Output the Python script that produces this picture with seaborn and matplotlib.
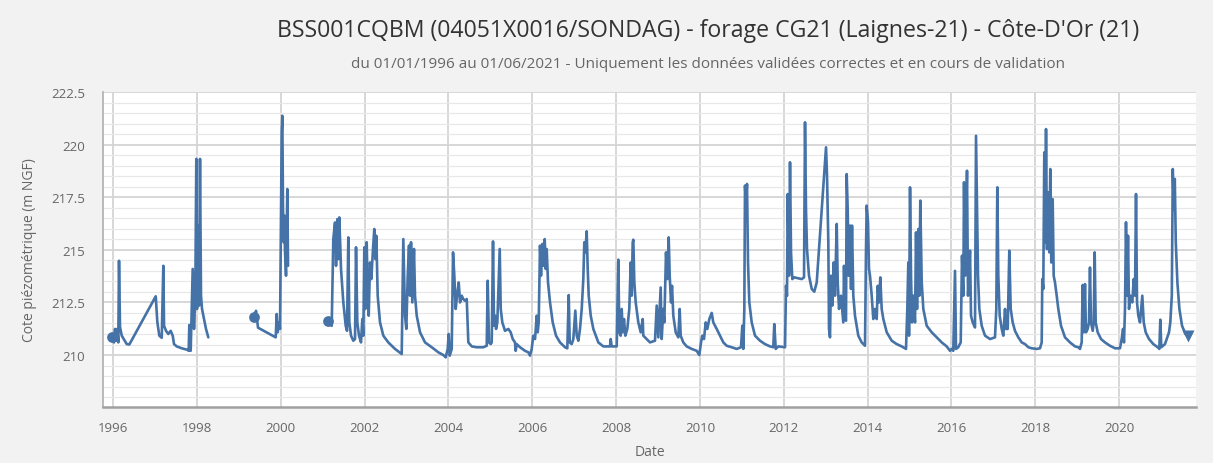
import numpy as np
import pandas as pd
import matplotlib
matplotlib.use("Agg")
import matplotlib.pyplot as plt
from matplotlib.ticker import MultipleLocator, FuncFormatter
import seaborn as sns

# ---------------- data ----------------
years_1996_1998 = [1995.969, 1996.024, 1996.048, 1996.072, 1996.103, 1996.126, 1996.143, 1996.167,
                   1996.208, 1996.327, 1996.389, 1997.019, 1997.057, 1997.104, 1997.162, 1997.200,
                   1997.217, 1997.264, 1997.319, 1997.376, 1997.424, 1997.455, 1997.520, 1997.639,
                   1997.772, 1997.805, 1997.820, 1997.853, 1997.901, 1997.932, 1997.963, 1997.987,
                   1998.004, 1998.028, 1998.052, 1998.075, 1998.099, 1998.123, 1998.171, 1998.218,
                   1998.273]
level_1996_1998 = [210.84, 210.60, 211.24, 210.68, 211.24, 210.60, 214.48, 211.33,
                   210.92, 210.52, 210.50, 212.79, 211.57, 210.92, 210.82, 214.24,
                   211.39, 211.15, 211.00, 211.15, 210.92, 210.52, 210.41, 210.32,
                   210.25, 210.20, 211.43, 210.20, 214.09, 211.24, 212.82, 219.32,
                   212.19, 216.15, 212.35, 219.32, 212.82, 212.19, 211.71, 211.24,
                   210.84]

years_1999_2000 = [1999.371, 1999.411, 1999.459, 1999.881, 1999.905, 1999.929, 1999.960, 1999.984,
                   2000.024, 2000.039, 2000.055, 2000.072, 2000.086, 2000.103, 2000.127, 2000.158,
                   2000.175]
level_1999_2000 = [211.79, 212.10, 211.30, 210.84, 211.95, 211.08, 211.55, 211.24,
                   220.58, 221.37, 216.94, 215.36, 216.62, 214.88, 213.77, 217.89,
                   214.24]

readings_2001_2021 = [
    (2001.136, 211.63), (2001.217, 211.39), (2001.255, 215.51), (2001.296, 216.30), (2001.320, 214.24),
    (2001.351, 216.46), (2001.375, 214.56), (2001.398, 216.54), (2001.439, 214.09), (2001.494, 212.50),
    (2001.551, 211.39), (2001.582, 211.15), (2001.613, 215.59), (2001.637, 211.55), (2001.678, 210.92),
    (2001.732, 210.68), (2001.773, 210.76), (2001.797, 215.12), (2001.828, 211.55), (2001.868, 210.92),
    (2001.916, 210.60), (2001.947, 211.71), (2001.971, 210.92), (2001.995, 215.12), (2002.019, 212.19),
    (2002.052, 215.36), (2002.076, 212.82), (2002.100, 211.87), (2002.131, 214.40), (2002.162, 213.61),
    (2002.202, 215.04), (2002.233, 215.99), (2002.257, 214.56), (2002.281, 215.67), (2002.314, 212.82),
    (2002.369, 211.55), (2002.448, 210.92), (2002.567, 210.60), (2002.727, 210.29), (2002.887, 210.05),
    (2002.925, 215.51), (2002.966, 211.87), (2002.997, 211.24), (2003.030, 213.77), (2003.061, 215.20),
    (2003.085, 212.82), (2003.109, 215.36), (2003.140, 212.50), (2003.180, 215.04), (2003.204, 212.82),
    (2003.245, 211.87), (2003.324, 211.08), (2003.443, 210.60), (2003.603, 210.37), (2003.760, 210.13),
    (2003.879, 210.00), (2003.937, 209.89), (2003.984, 210.29), (2004.008, 211.00), (2004.032, 209.97),
    (2004.080, 210.29), (2004.111, 214.88), (2004.142, 213.77), (2004.175, 212.19), (2004.206, 212.82),
    (2004.247, 213.45), (2004.278, 212.50), (2004.318, 212.82), (2004.356, 212.66), (2004.397, 212.58),
    (2004.438, 212.66), (2004.476, 210.60), (2004.557, 210.41), (2004.676, 210.37), (2004.833, 210.37),
    (2004.915, 210.44), (2004.938, 213.53), (2004.969, 210.60), (2005.010, 210.52), (2005.034, 210.60),
    (2005.065, 215.40), (2005.089, 211.39), (2005.113, 211.87), (2005.137, 211.24), (2005.168, 211.55),
    (2005.225, 215.04), (2005.249, 212.19), (2005.287, 211.55), (2005.351, 211.15), (2005.430, 211.24),
    (2005.487, 211.08), (2005.535, 210.76), (2005.590, 210.60), (2005.606, 210.20), (2005.630, 210.52),
    (2005.709, 210.37), (2005.828, 210.20), (2005.907, 210.13), (2005.948, 209.97), (2005.988, 210.29),
    (2006.026, 210.92), (2006.067, 210.76), (2006.107, 211.87), (2006.131, 211.08), (2006.155, 211.55),
    (2006.186, 215.20), (2006.210, 213.77), (2006.241, 215.28), (2006.265, 214.24), (2006.298, 215.51),
    (2006.322, 214.09), (2006.346, 215.04), (2006.377, 213.45), (2006.425, 212.50), (2006.489, 211.55),
    (2006.568, 210.92), (2006.663, 210.60), (2006.783, 210.37), (2006.837, 210.32), (2006.871, 212.85),
    (2006.895, 210.60), (2006.942, 210.52), (2006.981, 210.76), (2007.028, 212.11), (2007.062, 210.92),
    (2007.100, 210.68), (2007.140, 211.24), (2007.181, 212.19), (2007.219, 213.61), (2007.243, 215.36),
    (2007.267, 214.88), (2007.300, 215.88), (2007.324, 214.09), (2007.348, 212.82), (2007.396, 211.87),
    (2007.458, 211.24), (2007.577, 210.60), (2007.696, 210.41), (2007.856, 210.41), (2007.873, 210.76),
    (2007.896, 210.41), (2008.016, 210.41), (2008.054, 214.53), (2008.078, 211.08), (2008.111, 210.92),
    (2008.135, 212.19), (2008.159, 211.08), (2008.190, 211.71), (2008.221, 210.92), (2008.269, 211.24),
    (2008.316, 212.19), (2008.350, 214.40), (2008.374, 212.82), (2008.397, 215.36), (2008.412, 215.48),
    (2008.436, 213.45), (2008.469, 212.50), (2008.531, 211.55), (2008.588, 211.08), (2008.636, 211.71),
    (2008.650, 210.92), (2008.731, 210.76), (2008.810, 210.60), (2008.929, 210.68), (2008.970, 212.35),
    (2009.008, 210.84), (2009.065, 213.21), (2009.089, 210.76), (2009.127, 212.19), (2009.151, 211.55),
    (2009.192, 214.88), (2009.223, 213.61), (2009.256, 215.59), (2009.280, 213.77), (2009.311, 212.50),
    (2009.335, 213.29), (2009.366, 211.87), (2009.423, 211.08), (2009.485, 210.84), (2009.518, 212.19),
    (2009.542, 210.92), (2009.604, 210.60), (2009.685, 210.41), (2009.805, 210.29), (2009.924, 210.20),
    (2009.986, 210.00), (2010.027, 210.60), (2010.058, 210.92), (2010.098, 210.76), (2010.139, 211.55),
    (2010.177, 211.24), (2010.225, 211.71), (2010.282, 212.00), (2010.320, 211.55), (2010.401, 211.24),
    (2010.480, 210.92), (2010.559, 210.60), (2010.640, 210.44), (2010.759, 210.37), (2010.878, 210.29),
    (2010.981, 210.37), (2011.012, 211.39), (2011.036, 210.29), (2011.060, 212.19), (2011.076, 218.05),
    (2011.100, 217.10), (2011.124, 218.13), (2011.148, 214.40), (2011.179, 212.50), (2011.236, 211.55),
    (2011.315, 210.92), (2011.434, 210.68), (2011.553, 210.52), (2011.673, 210.41), (2011.751, 210.37),
    (2011.775, 211.47), (2011.809, 210.29), (2011.871, 210.41), (2012.031, 210.37), (2012.055, 213.29),
    (2012.078, 212.82), (2012.095, 217.65), (2012.126, 213.77), (2012.150, 219.16), (2012.174, 214.88),
    (2012.205, 213.61), (2012.252, 213.69), (2012.429, 213.61), (2012.484, 213.69), (2012.508, 221.06),
    (2012.531, 216.94), (2012.555, 215.04), (2012.603, 213.77), (2012.668, 213.14), (2012.729, 213.01),
    (2012.787, 213.45), (2013.009, 219.87), (2013.033, 218.52), (2013.064, 215.36), (2013.080, 211.24),
    (2013.104, 210.84), (2013.128, 213.77), (2013.159, 212.35), (2013.192, 214.40), (2013.223, 212.82),
    (2013.264, 216.23), (2013.288, 213.45), (2013.319, 212.19), (2013.366, 212.82), (2013.421, 211.55),
    (2013.438, 214.24), (2013.462, 211.71), (2013.486, 211.63), (2013.502, 218.60), (2013.526, 216.94),
    (2013.550, 213.77), (2013.581, 216.15), (2013.605, 213.14), (2013.629, 216.15), (2013.660, 212.82),
    (2013.700, 211.87), (2013.779, 210.92), (2013.860, 210.60), (2013.939, 210.44), (2013.963, 215.04),
    (2013.979, 217.10), (2014.011, 216.31), (2014.034, 214.09), (2014.058, 213.77), (2014.099, 212.82),
    (2014.137, 211.71), (2014.177, 212.19), (2014.218, 211.71), (2014.242, 213.29), (2014.273, 212.50),
    (2014.304, 213.69), (2014.337, 212.19), (2014.376, 211.71), (2014.457, 211.08), (2014.576, 210.68),
    (2014.695, 210.52), (2014.814, 210.41), (2014.917, 210.29), (2014.948, 212.19), (2014.972, 214.40),
    (2014.989, 210.92), (2015.013, 217.97), (2015.037, 213.77), (2015.060, 211.55), (2015.091, 212.82),
    (2015.132, 211.55), (2015.156, 215.83), (2015.180, 212.19), (2015.211, 215.99), (2015.235, 212.82),
    (2015.258, 217.34), (2015.292, 213.45), (2015.330, 212.19), (2015.411, 211.39), (2015.530, 211.08),
    (2015.649, 210.84), (2015.769, 210.60), (2015.888, 210.41), (2015.967, 210.20), (2016.007, 210.29),
    (2016.045, 210.20), (2016.086, 214.00), (2016.110, 210.29), (2016.164, 210.37), (2016.222, 210.60),
    (2016.253, 214.72), (2016.284, 212.82), (2016.301, 218.21), (2016.325, 213.77), (2016.348, 215.67),
    (2016.372, 218.76), (2016.396, 212.82), (2016.420, 213.77), (2016.444, 214.96), (2016.468, 211.87),
    (2016.508, 211.55), (2016.563, 211.31), (2016.587, 220.42), (2016.611, 216.94), (2016.635, 213.77),
    (2016.666, 212.19), (2016.723, 211.39), (2016.802, 210.92), (2016.921, 210.76), (2017.040, 210.84),
    (2017.071, 212.19), (2017.095, 217.97), (2017.119, 213.77), (2017.152, 211.87), (2017.200, 211.24),
    (2017.238, 210.92), (2017.279, 212.19), (2017.303, 211.24), (2017.343, 211.24), (2017.381, 214.96),
    (2017.415, 212.19), (2017.462, 211.55), (2017.517, 211.15), (2017.596, 210.84), (2017.677, 210.60),
    (2017.756, 210.52), (2017.835, 210.37), (2017.915, 210.32), (2018.035, 210.29), (2018.114, 210.32),
    (2018.154, 210.60), (2018.168, 213.61), (2018.192, 213.14), (2018.216, 219.63), (2018.240, 215.36),
    (2018.257, 220.74), (2018.280, 215.04), (2018.311, 217.73), (2018.335, 214.88), (2018.359, 218.84),
    (2018.383, 214.40), (2018.416, 217.41), (2018.440, 213.77), (2018.471, 213.45), (2018.512, 212.82),
    (2018.550, 212.19), (2018.615, 211.39), (2018.710, 210.84), (2018.829, 210.60), (2018.949, 210.41),
    (2019.027, 210.37), (2019.068, 210.29), (2019.108, 210.60), (2019.132, 213.33), (2019.156, 211.08),
    (2019.187, 213.37), (2019.211, 211.08), (2019.251, 211.24), (2019.282, 211.55), (2019.306, 214.16),
    (2019.330, 211.55), (2019.371, 211.15), (2019.395, 211.55), (2019.418, 214.88), (2019.442, 211.55),
    (2019.490, 211.08), (2019.569, 210.76), (2019.664, 210.60), (2019.783, 210.44), (2019.903, 210.32),
    (2020.022, 210.32), (2020.062, 210.76), (2020.094, 211.24), (2020.117, 210.60), (2020.141, 212.19),
    (2020.165, 216.31), (2020.189, 212.82), (2020.213, 215.67), (2020.237, 212.19), (2020.268, 212.82),
    (2020.315, 212.50), (2020.349, 213.61), (2020.380, 212.82), (2020.404, 217.65), (2020.428, 212.50),
    (2020.459, 211.87), (2020.499, 211.55), (2020.554, 212.82), (2020.588, 211.55), (2020.635, 211.08),
    (2020.714, 210.76), (2020.816, 210.52), (2020.921, 210.37), (2020.960, 210.29), (2020.984, 211.68),
    (2021.007, 210.37), (2021.095, 210.52), (2021.191, 211.08), (2021.222, 211.55), (2021.258, 212.82),
    (2021.281, 218.84), (2021.305, 216.94), (2021.329, 218.37), (2021.353, 215.36), (2021.391, 213.45),
    (2021.439, 212.19), (2021.502, 211.39), (2021.582, 211.00), (2021.651, 210.92),
]

y_tick_values = [210, 212.5, 215, 217.5, 220, 222.5]
x_tick_values = list(range(1996, 2021, 2))

title_text = "BSS001CQBM (04051X0016/SONDAG) - forage CG21 (Laignes-21) - Côte-D'Or (21)"
subtitle_text = ("du 01/01/1996 au 01/06/2021 - Uniquement les données validées correctes "
                 "et en cours de validation")
y_label = "Cote piézométrique (m NGF)"
x_label = "Date"

# ---------------- build table ----------------
y3, v3 = zip(*readings_2001_2021)
df = pd.concat([
    pd.DataFrame({"annee": years_1996_1998, "cote": level_1996_1998, "segment": 1}),
    pd.DataFrame({"annee": years_1999_2000, "cote": level_1999_2000, "segment": 2}),
    pd.DataFrame({"annee": list(y3), "cote": list(v3), "segment": 3}),
], ignore_index=True)

starts = df.groupby("segment").head(1)
end = df.tail(1)

# ---------------- style ----------------
sns.set_theme(style="white")
plt.rcParams["font.family"] = ["Open Sans", "DejaVu Sans"]

LINE = "#4572A7"
fig = plt.figure(figsize=(12.13, 4.64), dpi=100, facecolor="#f2f2f2")
ax = fig.add_axes([103 / 1213, 1 - 408 / 464, 1093 / 1213, 315 / 464])
ax.set_facecolor("white")

sns.lineplot(data=df, x="annee", y="cote", units="segment", estimator=None, sort=False,
             color=LINE, linewidth=1.9, ax=ax, legend=False, zorder=3)
sns.scatterplot(data=starts, x="annee", y="cote", color=LINE, s=60, marker="o",
                edgecolor=LINE, linewidth=0, ax=ax, zorder=4, legend=False)
sns.scatterplot(data=end, x="annee", y="cote", color=LINE, s=75, marker="v",
                edgecolor=LINE, linewidth=0, ax=ax, zorder=4, legend=False)

ax.set_xlim(1995.761, 2021.835)
ax.set_ylim(207.53, 222.5)

ax.set_yticks(y_tick_values)
ax.yaxis.set_minor_locator(MultipleLocator(0.5))
ax.yaxis.set_major_formatter(FuncFormatter(lambda v, p: f"{v:g}"))
ax.set_xticks(x_tick_values)
ax.xaxis.set_major_formatter(FuncFormatter(lambda v, p: f"{int(round(v))}"))

ax.grid(which="major", axis="y", color="#d4d4d4", linewidth=1.3, zorder=0)
ax.grid(which="minor", axis="y", color="#e8e8e8", linewidth=0.9, zorder=0)
ax.grid(which="major", axis="x", color="#d4d4d4", linewidth=1.3, zorder=0)
ax.set_axisbelow(True)

for s in ["top", "right"]:
    ax.spines[s].set_visible(False)
ax.spines["left"].set_color("#b4b4b4")
ax.spines["left"].set_linewidth(1.3)
ax.spines["bottom"].set_color("#a0a0a0")
ax.spines["bottom"].set_linewidth(1.8)

ax.tick_params(axis="y", which="both", length=0, pad=13, labelsize=9.5, labelcolor="#666666")
ax.tick_params(axis="x", which="major", length=8, width=1.1, color="#a0a0a0", pad=2,
               labelsize=9.5, labelcolor="#666666", direction="out")
ax.tick_params(axis="x", which="minor", length=0)

ax.set_xlabel(x_label, fontsize=10, color="#666666", va="center")
ax.set_ylabel(y_label, fontsize=10, color="#666666", va="center")
ax.xaxis.set_label_coords(0.5005, -0.1397)
ax.yaxis.set_label_coords(-0.0668, 0.5)

fig.text(708 / 1213, 1 - 31 / 464, title_text, ha="center", va="center",
         fontsize=16.7, color="#333333")
fig.text(708 / 1213, 1 - 65 / 464, subtitle_text, ha="center", va="center",
         fontsize=11, color="#666666")

fig.savefig("out.png", dpi=100, facecolor=fig.get_facecolor())
